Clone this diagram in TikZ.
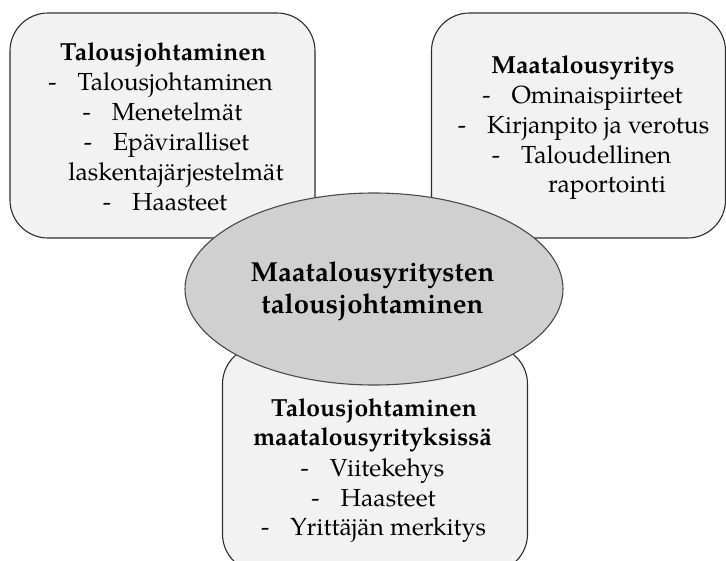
\documentclass[tikz,border=0pt]{standalone}
\usepackage{fontspec}
\setmainfont{TeX Gyre Pagella}
\usetikzlibrary{shapes.geometric}
\definecolor{boxfill}{HTML}{F2F2F2}
\definecolor{hubfill}{HTML}{D0D0D0}
\definecolor{edge}{HTML}{2E2E2E}
\definecolor{hubedge}{HTML}{4A4A4A}
\begin{document}
\begin{tikzpicture}[x=1pt,y=-1pt,
  box/.style={draw=edge, fill=boxfill, rounded corners=38pt, line width=1.1pt, inner sep=0pt},
  hub/.style={ellipse, draw=hubedge, fill=hubfill, line width=1.1pt, inner sep=0pt},
  txt/.style={anchor=base, inner sep=0pt, font=\fontsize{24.7}{30}\selectfont},
  btxt/.style={anchor=base, inner sep=0pt, font=\fontsize{24.7}{30}\selectfont\bfseries},
  htxt/.style={anchor=base, inner sep=0pt, font=\fontsize{27.5}{32}\selectfont\bfseries}]
\fill[white] (0,0) rectangle (726,560);
\useasboundingbox (0,0) rectangle (726,560);
% boxes
\node[box, minimum width=305pt, minimum height=225pt] (left) at (162.5,125.5) {};
\node[box, minimum width=294pt, minimum height=225pt] (right) at (578.5,125.5) {};
\node[box, minimum width=305pt, minimum height=226pt] (bottom) at (375,459) {};
% hub
\node[hub, minimum width=378pt, minimum height=192pt] (hub) at (374,289) {};
% left texts
\node[btxt] (l0) at (163,60) {Talousjohtaminen};
\node[txt] (l1) at (160.5,90.5) {-\hspace{0.85em}Talousjohtaminen};
\node[txt] (l2) at (162.5,120.5) {-\hspace{0.85em}Menetelmät};
\node[txt] (l3) at (166.5,150.5) {-\hspace{0.85em}Epäviralliset};
\node[txt] (l4) at (176,180.5) {laskentajärjestelmät};
\node[txt] (l5) at (165,210.5) {-\hspace{0.85em}Haasteet};
% right texts
\node[btxt] (r0) at (583,73) {Maatalousyritys};
\node[txt] (r1) at (582.5,103) {-\hspace{0.85em}Ominaispiirteet};
\node[txt] (r2) at (583.5,133) {-\hspace{0.85em}Kirjanpito ja verotus};
\node[txt] (r3) at (581.5,163) {-\hspace{0.85em}Taloudellinen};
\node[txt] (r4) at (607,192.5) {raportointi};
% hub texts
\node[htxt] (h0) at (372.5,281.5) {Maatalousyritysten};
\node[htxt] (h1) at (372.5,313) {talousjohtaminen};
% bottom texts
\node[btxt] (b0) at (374,416.5) {Talousjohtaminen};
\node[btxt] (b1) at (372.5,445) {maatalousyrityksissä};
\node[txt] (b2) at (372.5,476) {-\hspace{0.85em}Viitekehys};
\node[txt] (b3) at (373.5,506) {-\hspace{0.85em}Haasteet};
\node[txt] (b4) at (373.5,535) {-\hspace{0.85em}Yrittäjän merkitys};
\end{tikzpicture}
\end{document}
